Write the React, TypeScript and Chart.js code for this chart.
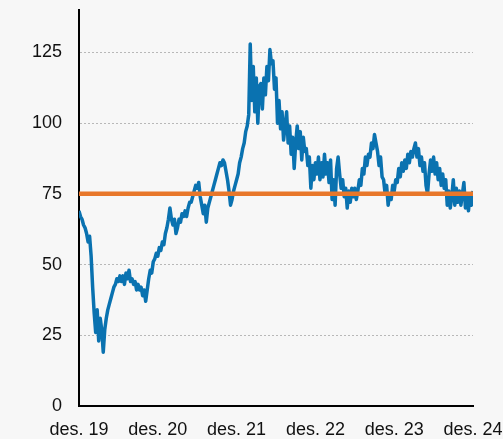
import React, { useEffect, useRef } from "react";
import { Chart, registerables } from "chart.js";

Chart.register(...registerables);

// Weekly values, des. 2019 – des. 2024
const values2020 = [
  69, 67, 66, 64, 63, 61, 58, 60, 53, 42,
  33, 26, 34, 23, 31, 27, 19, 27, 31, 34,
  36, 38, 40, 42, 43, 45, 44, 46, 44, 46,
  43, 47, 45, 48, 44, 45, 43, 44, 41, 43,
  41, 42, 39, 41, 37, 41, 45, 48, 47, 51,
  52, 54,
];
const values2021 = [
  53, 56, 55, 58, 57, 61, 63, 66,
  70, 66, 64, 66, 61, 63, 66, 65, 68, 67,
  69, 67, 70, 72, 72, 74, 76, 78, 77, 79,
  74, 71, 68, 71, 65, 70, 72, 74, 76, 78,
  80, 82, 84, 86, 85, 87, 86, 83, 80, 76,
  71, 73, 76, 78,
];
const values2022 = [
  80, 82, 86, 88, 91, 93,
  97, 99, 103, 128, 108, 120, 104, 116, 100, 113,
  114, 105, 116, 110, 120, 115, 126, 121, 122, 112,
  116, 100, 108, 98, 104, 94, 99, 104, 93, 99,
  89, 95, 84, 93, 99, 91, 97, 87, 95, 90,
  91, 85, 88, 77, 85, 80,
];
const values2023 = [
  86, 82, 88, 80,
  86, 81, 89, 82, 86, 79, 87, 73, 80, 71,
  84, 88, 82, 77, 80, 74, 77, 70, 76, 72,
  77, 74, 77, 73, 76, 80, 78, 84, 82, 88,
  85, 89, 88, 93, 91, 96, 93, 90, 85, 88,
  81, 80, 75, 78, 71, 75, 73, 78,
];
const values2024 = [
  76, 80,
  79, 84, 81, 86, 83, 87, 84, 89, 86, 90,
  88, 91, 93, 88, 91, 85, 88, 83, 86, 78,
  75, 82, 87, 83, 88, 82, 86, 80, 84, 78,
  82, 77, 80, 71, 76, 70, 74, 80, 71, 77,
  72, 76, 71, 75, 79, 70, 74, 69, 75, 71,
  76,
];
const priceSeries = [...values2020, ...values2021, ...values2022, ...values2023, ...values2024];

const referenceLevel = 75;
const yearTickLabels = ["des. 19", "des. 20", "des. 21", "des. 22", "des. 23", "des. 24"];
const weeksPerYear = 52;
const yTickValues = [0, 25, 50, 75, 100, 125];
const yMax = 140;

const BLUE = "#0a72b0";
const ORANGE = "#e8772a";
const BG = "#f7f7f7";
const FONT = { family: "'Liberation Sans', Arial, sans-serif", size: 18 };

export default function App() {
  const ref = useRef<HTMLCanvasElement | null>(null);

  useEffect(() => {
    document.body.style.margin = "0";
    document.body.style.background = BG;
    const canvas = ref.current;
    if (!canvas) return;
    const lastX = (yearTickLabels.length - 1) * weeksPerYear;
    const chart = new Chart(canvas, {
      type: "line",
      data: {
        datasets: [
          {
            data: [
              { x: 0, y: referenceLevel },
              { x: lastX, y: referenceLevel },
            ],
            borderColor: ORANGE,
            borderWidth: 4.5,
            pointRadius: 0,
            tension: 0,
          },
          {
            data: priceSeries.map((y, i) => ({ x: i, y })),
            borderColor: BLUE,
            borderWidth: 3.5,
            pointRadius: 0,
            tension: 0,
            borderJoinStyle: "round",
          },
        ],
      },
      options: {
        animation: false,
        responsive: false,
        maintainAspectRatio: false,
        layout: { padding: { top: 10, left: 0, right: 30, bottom: 0 } },
        plugins: { legend: { display: false }, tooltip: { enabled: false } },
        scales: {
          x: {
            type: "linear",
            min: 0,
            max: lastX,
            grid: { display: false },
            border: { color: "#000", width: 2 },
            ticks: {
              stepSize: weeksPerYear,
              autoSkip: false,
              maxRotation: 0,
              padding: 5,
              color: "#111",
              font: FONT,
              callback: (v: any) => {
                const idx = Math.round(Number(v) / weeksPerYear);
                return yearTickLabels[idx] ?? "";
              },
            },
            afterFit: (scale: any) => {
              scale.height = 33;
              scale.paddingLeft = 0;
              scale.paddingRight = 0;
            },
          },
          y: {
            min: 0,
            max: yMax,
            afterBuildTicks: (scale: any) => {
              scale.ticks = yTickValues.map((v) => ({ value: v }));
            },
            grid: {
              color: (ctx: any) => (ctx.tick && ctx.tick.value === 0 ? "rgba(0,0,0,0)" : "#b8b8b8"),
              lineWidth: 1,
              drawTicks: false,
            },
            border: { color: "#000", width: 2, dash: [2, 2] as any },
            ticks: {
              padding: 17,
              color: "#111",
              font: FONT,
            },
            afterFit: (scale: any) => {
              scale.width = 79;
              scale.paddingTop = 0;
              scale.paddingBottom = 0;
            },
          },
        },
      },
    });
    return () => chart.destroy();
  }, []);

  return (
    <div style={{ width: 503, height: 439, background: BG, position: "relative" }}>
      <canvas ref={ref} width={503} height={439} style={{ display: "block" }} />
    </div>
  );
}
